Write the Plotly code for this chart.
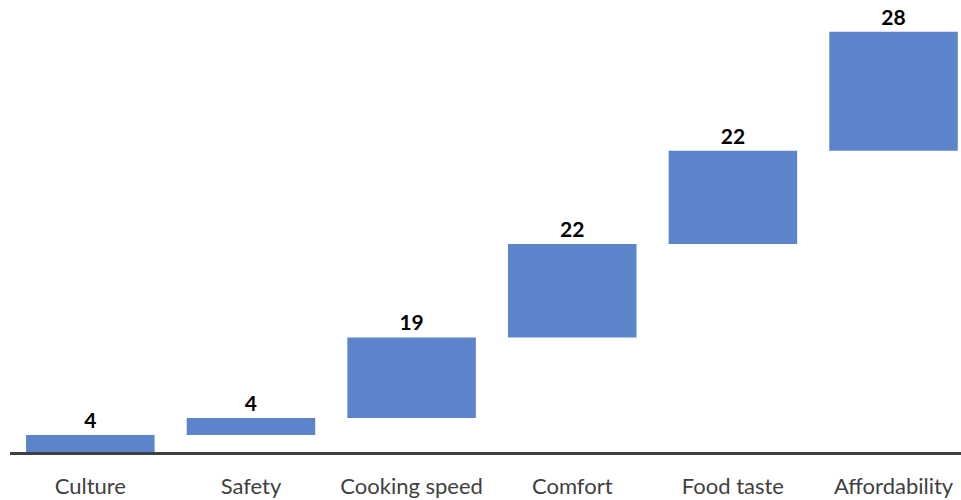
import plotly.graph_objects as go

# Factors and their contributions to the cumulative score
categories = ["Culture", "Safety", "Cooking speed", "Comfort", "Food taste", "Affordability"]
values = [4, 4, 19, 22, 22, 28]

positions = list(range(len(categories)))
bar_color = "#5b84ca"

fig = go.Figure(
    go.Waterfall(
        x=positions,
        y=values,
        measure=["relative"] * len(values),
        text=[str(v) for v in values],
        textposition="outside",
        textfont=dict(family="Lato", size=21, color="#000000", weight="bold"),
        increasing=dict(marker=dict(color=bar_color, line=dict(width=0))),
        decreasing=dict(marker=dict(color=bar_color, line=dict(width=0))),
        totals=dict(marker=dict(color=bar_color, line=dict(width=0))),
        connector=dict(visible=False),
        width=0.8,
        cliponaxis=False,
        hoverinfo="skip",
    )
)

fig.update_layout(
    width=961,
    height=500,
    margin=dict(l=10, r=0, t=0, b=48),
    paper_bgcolor="white",
    plot_bgcolor="white",
    showlegend=False,
    font=dict(family="Lato"),
)

fig.update_xaxes(
    range=[-0.5, 5.42],
    tickvals=positions,
    ticktext=categories,
    tickfont=dict(family="Lato", size=22, color="#404040"),
    ticks="outside",
    ticklen=13,
    tickcolor="rgba(0,0,0,0)",
    showline=True,
    linecolor="#404040",
    linewidth=3,
    showgrid=False,
    zeroline=False,
)

fig.update_yaxes(
    range=[0, 106.5],
    visible=False,
    showgrid=False,
    zeroline=False,
)

fig.write_html("out.html")
